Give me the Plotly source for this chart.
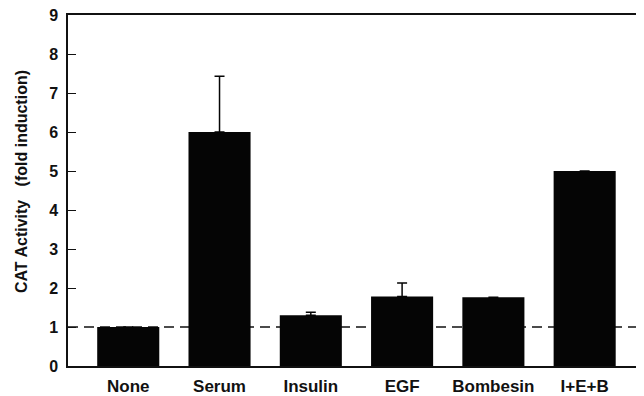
import plotly.graph_objects as go

categories = ["None", "Serum", "Insulin", "EGF", "Bombesin", "I+E+B"]
values = [1.0, 6.0, 1.3, 1.78, 1.76, 5.0]
err_up = [None, 1.43, 0.08, 0.35, None, None]
y_ticks = [0, 1, 2, 3, 4, 5, 6, 7, 8, 9]
baseline = 1.0
y_title = "CAT Activity\u00a0\u00a0\u00a0(fold induction)"

font_family = "Liberation Sans, Arial, sans-serif"

fig = go.Figure()
fig.add_trace(go.Bar(
    x=list(range(len(categories))),
    y=values,
    width=0.68,
    marker=dict(color="#050505", line=dict(width=0)),
    error_y=dict(type="data", symmetric=False, array=err_up,
                 arrayminus=[0 if e is not None else None for e in err_up],
                 color="#050505", thickness=1.5, width=5, visible=True),
))

fig.add_shape(type="line", xref="paper", yref="y", x0=0, x1=1,
              y0=baseline, y1=baseline, layer="below",
              line=dict(color="#111", width=1.5, dash="10px,6px"))

fig.add_annotation(text="<b>%s</b>" % y_title, textangle=-90,
                   xref="paper", yref="paper", x=0, y=0.524,
                   xshift=-47, xanchor="center", yanchor="middle",
                   showarrow=False, font=dict(size=16, color="#111"))

fig.update_layout(
    width=636, height=388,
    margin=dict(l=60, r=0, t=7, b=30),
    plot_bgcolor="white", paper_bgcolor="white",
    showlegend=False,
    font=dict(family=font_family, color="#111", size=15),
    xaxis=dict(
        range=[-0.66, 5.65],
        automargin=False,
        tickmode="array",
        tickvals=list(range(len(categories))),
        ticktext=["<b>%s</b>" % c for c in categories],
        showline=True, linecolor="#111", linewidth=1.5, mirror=True,
        showgrid=False, zeroline=False, ticks="",
        ticklabelstandoff=4,
        ticklabeloverflow="allow",
        tickfont=dict(size=17),
    ),
    yaxis=dict(
        range=[0, 9],
        automargin=False,
        tickmode="array",
        tickvals=y_ticks,
        ticktext=["<b>%d</b>" % t for t in y_ticks],
        showline=True, linecolor="#111", linewidth=1.5,
        showgrid=False, zeroline=False,
        ticks="inside", ticklen=8, tickwidth=1.2, tickcolor="#111",
        ticklabelstandoff=5,
        ticklabeloverflow="allow",
        tickfont=dict(size=16),
    ),
)

fig.write_html("out.html")
